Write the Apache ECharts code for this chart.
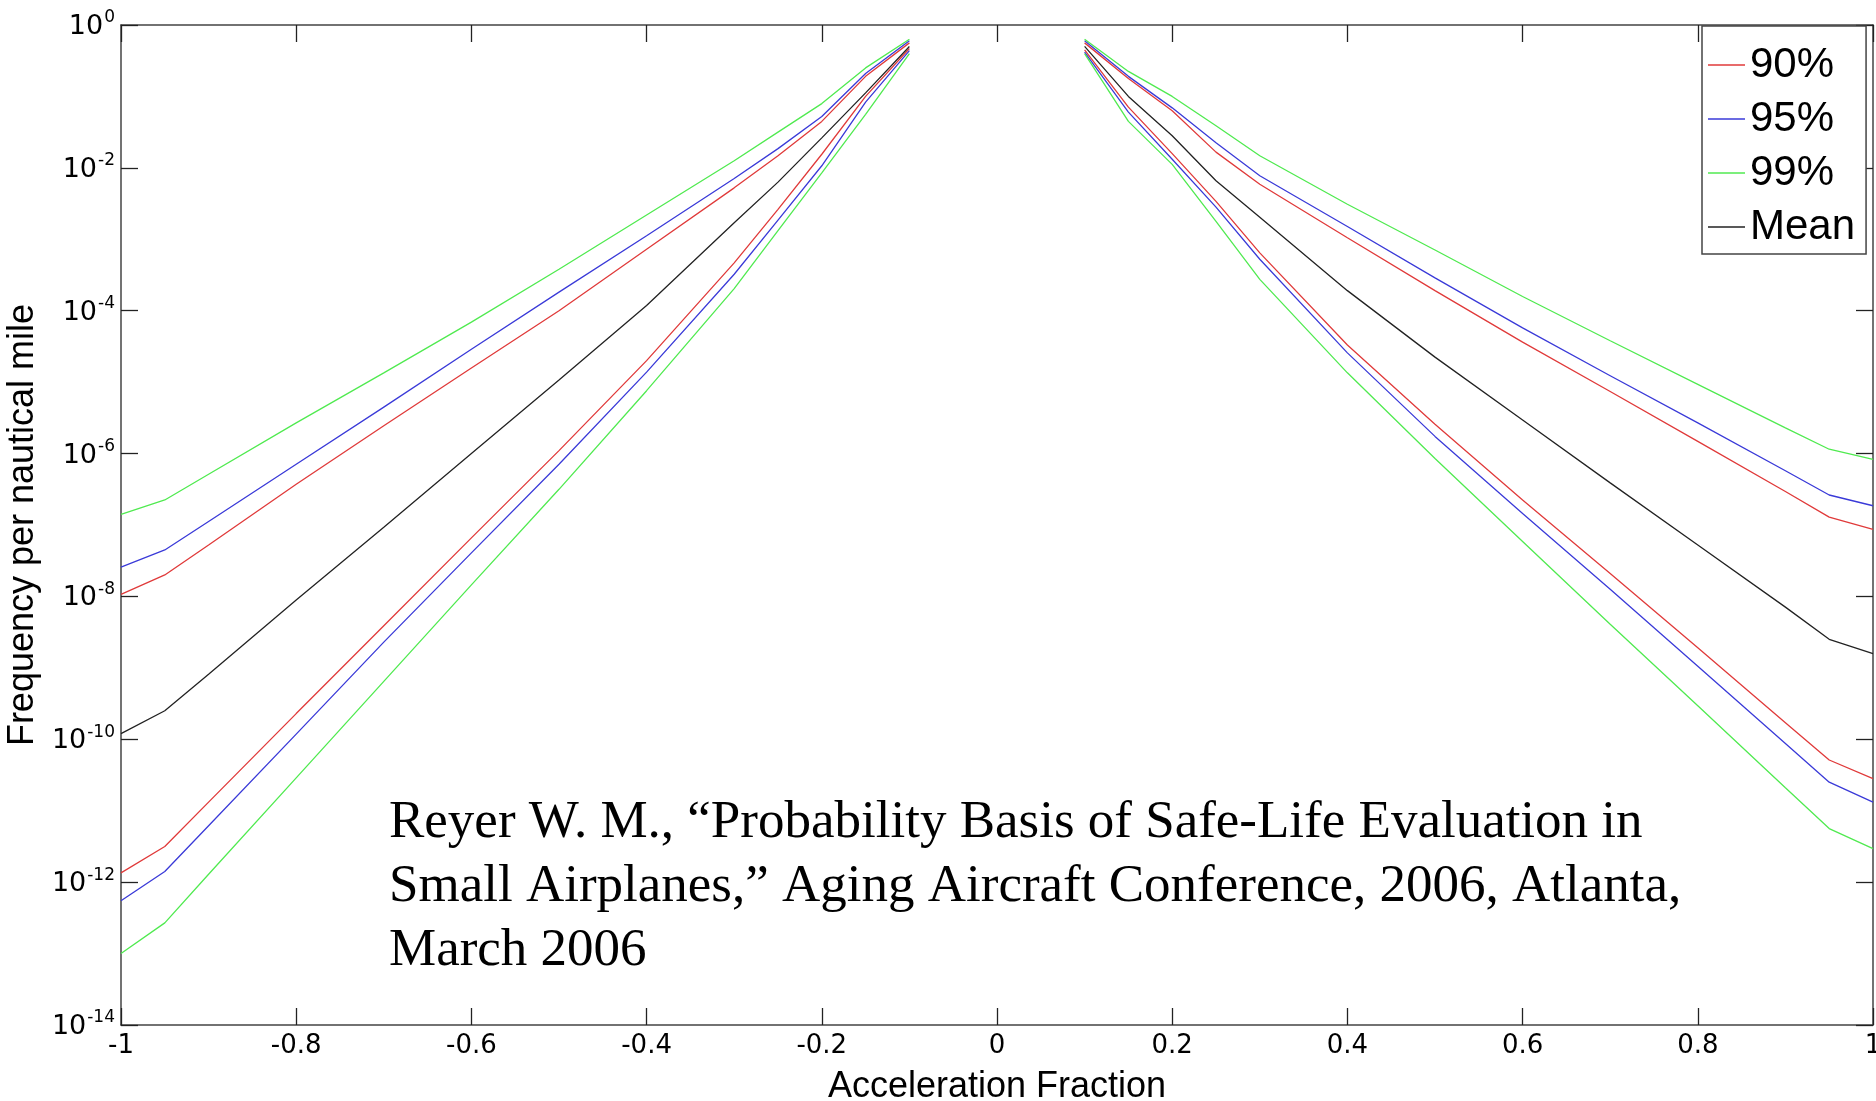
<!DOCTYPE html>
<html>
<head>
<meta charset="utf-8">
<script src="https://cdn.jsdelivr.net/npm/echarts@6/dist/echarts.min.js"></script>
<style>
html,body{margin:0;padding:0;background:#fff;}
#chart{width:1876px;height:1101px;}
</style>
</head>
<body>
<div id="chart"></div>
<script>
// x positions (acceleration fraction)
const leftX = [-1, -0.95, -0.9, -0.8, -0.7, -0.6, -0.5, -0.4, -0.3, -0.25, -0.2, -0.15, -0.1];
const rightX = [0.1, 0.15, 0.2, 0.25, 0.3, 0.4, 0.5, 0.6, 0.7, 0.8, 0.9, 0.95, 1];

// frequency per nautical mile, left (negative) branch
const green99UpperLeft = [1.41e-7, 2.24e-7, 5.13e-7, 2.69e-6, 1.35e-5, 6.92e-5, 3.80e-4, 2.19e-3, 1.26e-2, 3.16e-2, 7.94e-2, 0.251, 0.631];
const blue95UpperLeft  = [2.57e-8, 4.47e-8, 1.12e-7, 7.08e-7, 4.47e-6, 2.88e-5, 1.82e-4, 1.12e-3, 7.08e-3, 1.86e-2, 5.25e-2, 0.209, 0.603];
const red90UpperLeft   = [1.07e-8, 2.00e-8, 5.25e-8, 3.72e-7, 2.45e-6, 1.58e-5, 1.0e-4, 7.24e-4, 5.25e-3, 1.48e-2, 4.47e-2, 0.191, 0.562];
const meanLeft         = [1.20e-10, 2.51e-10, 8.13e-10, 8.91e-9, 9.33e-8, 1.0e-6, 1.07e-5, 1.18e-4, 1.70e-3, 6.31e-3, 2.63e-2, 0.112, 0.501];
const red90LowerLeft   = [1.35e-12, 3.16e-12, 1.32e-11, 2.29e-10, 3.89e-9, 6.61e-8, 1.10e-6, 2.00e-5, 4.68e-4, 2.63e-3, 1.55e-2, 0.1, 0.468];
const blue95LowerLeft  = [5.50e-13, 1.41e-12, 6.17e-12, 1.18e-10, 2.29e-9, 4.07e-8, 7.08e-7, 1.38e-5, 3.24e-4, 1.86e-3, 1.07e-2, 8.32e-2, 0.437];
const green99LowerLeft = [1.0e-13, 2.69e-13, 1.29e-12, 2.88e-11, 6.46e-10, 1.45e-8, 3.16e-7, 7.59e-6, 2.04e-4, 1.32e-3, 8.51e-3, 5.62e-2, 0.398];

// right (positive) branch
const green99UpperRight = [0.631, 0.224, 0.1, 3.89e-2, 1.48e-2, 3.09e-3, 7.08e-4, 1.58e-4, 3.80e-5, 9.33e-6, 2.29e-6, 1.15e-6, 8.32e-7];
const blue95UpperRight  = [0.603, 0.191, 6.92e-2, 2.24e-2, 7.76e-3, 1.51e-3, 2.88e-4, 5.75e-5, 1.23e-5, 2.69e-6, 5.75e-7, 2.63e-7, 1.86e-7];
const red90UpperRight   = [0.562, 0.178, 6.31e-2, 1.66e-2, 5.89e-3, 1.05e-3, 1.91e-4, 3.63e-5, 7.41e-6, 1.48e-6, 2.95e-7, 1.29e-7, 8.71e-8];
const meanRight         = [0.501, 0.1, 2.82e-2, 6.61e-3, 2.04e-3, 1.91e-4, 2.24e-5, 2.95e-6, 3.89e-7, 5.25e-8, 7.08e-9, 2.51e-9, 1.58e-9];
const red90LowerRight   = [0.447, 7.08e-2, 1.58e-2, 3.39e-3, 6.46e-4, 3.31e-5, 2.57e-6, 2.24e-7, 2.09e-8, 1.91e-9, 1.70e-10, 5.13e-11, 2.82e-11];
const blue95LowerRight  = [0.417, 6.03e-2, 1.32e-2, 2.82e-3, 5.25e-4, 2.57e-5, 1.74e-6, 1.45e-7, 1.26e-8, 1.05e-9, 8.71e-11, 2.51e-11, 1.32e-11];
const green99LowerRight = [0.398, 4.47e-2, 1.12e-2, 1.78e-3, 2.75e-4, 1.35e-5, 8.51e-7, 5.89e-8, 4.07e-9, 2.95e-10, 2.09e-11, 5.62e-12, 2.95e-12];

const legendNames = ['90%', '95%', '99%', 'Mean'];
const xAxisTitle = 'Acceleration Fraction';
const yAxisTitle = 'Frequency per nautical mile';
const noteText = 'Reyer W. M., \u201CProbability Basis of Safe-Life Evaluation in\nSmall Airplanes,\u201D Aging Aircraft Conference, 2006, Atlanta,\nMarch 2006';

const colors = { '90%': '#e03a3a', '95%': '#3a3ad8', '99%': '#50ea50', 'Mean': '#222222' };

function mk(name, xs, ys) {
  return {
    name: name, type: 'line', symbol: 'none', showSymbol: false,
    animation: false, silent: true,
    lineStyle: { width: 1.3, color: colors[name] },
    itemStyle: { color: colors[name] },
    data: xs.map((x, i) => [x, ys[i]])
  };
}

const series = [
  mk('90%', leftX, red90UpperLeft), mk('90%', leftX, red90LowerLeft),
  mk('90%', rightX, red90UpperRight), mk('90%', rightX, red90LowerRight),
  mk('95%', leftX, blue95UpperLeft), mk('95%', leftX, blue95LowerLeft),
  mk('95%', rightX, blue95UpperRight), mk('95%', rightX, blue95LowerRight),
  mk('99%', leftX, green99UpperLeft), mk('99%', leftX, green99LowerLeft),
  mk('99%', rightX, green99UpperRight), mk('99%', rightX, green99LowerRight),
  mk('Mean', leftX, meanLeft), mk('Mean', rightX, meanRight)
];

const FONT = '"Liberation Sans", Arial, Helvetica, sans-serif';
const TICKFONT = '"DejaVu Sans", "Liberation Sans", Arial, sans-serif';
const axisLineStyle = { color: '#444', width: 1.5 };
const tickStyle = { color: '#222', width: 1.3 };

const chart = echarts.init(document.getElementById('chart'), null, { renderer: 'canvas' });
chart.setOption({
  backgroundColor: '#fff',
  animation: false,
  grid: { left: 121, top: 25, width: 1752, height: 1000, containLabel: false, outerBoundsMode: 'none' },
  legend: {
    data: legendNames, orient: 'vertical', left: 1702, top: 26,
    icon: 'rect', itemWidth: 37, itemHeight: 1.5, itemGap: 12,
    backgroundColor: '#fff', borderColor: '#444', borderWidth: 1.5, borderRadius: 0,
    padding: [18, 11, 6, 6],
    textStyle: { fontSize: 42, fontFamily: FONT, color: '#000', lineHeight: 42 },
    selectedMode: false
  },
  xAxis: [{
    type: 'value', min: -1, max: 1, interval: 0.2, position: 'bottom',
    name: xAxisTitle, nameLocation: 'middle', nameGap: 44,
    nameTextStyle: { fontSize: 36, fontFamily: FONT, color: '#000' },
    axisLine: { show: true, onZero: false, lineStyle: axisLineStyle },
    axisTick: { show: true, inside: true, length: 17, lineStyle: tickStyle },
    axisLabel: { fontSize: 26, fontFamily: TICKFONT, color: '#000', margin: 8 },
    splitLine: { show: false }
  }, {
    type: 'value', min: -1, max: 1, interval: 0.2, position: 'top',
    axisLine: { show: true, onZero: false, lineStyle: axisLineStyle },
    axisTick: { show: true, inside: true, length: 17, lineStyle: tickStyle },
    axisLabel: { show: false }, splitLine: { show: false }
  }],
  yAxis: [{
    type: 'log', logBase: 10, min: 1e-14, max: 1, interval: 2, position: 'left',
    name: yAxisTitle, nameLocation: 'middle', nameGap: 80,
    nameTextStyle: { fontSize: 36, fontFamily: FONT, color: '#000' },
    axisLine: { show: true, onZero: false, lineStyle: axisLineStyle },
    axisTick: { show: true, inside: true, length: 17, lineStyle: tickStyle },
    minorTick: { show: false },
    axisLabel: {
      margin: 6, color: '#000',
      formatter: function (v) {
        const e = Math.round(Math.log10(v));
        return '{b|10}{s|' + e + '}';
      },
      rich: {
        b: { fontSize: 27, fontFamily: TICKFONT, color: '#000', verticalAlign: 'bottom' },
        s: { fontSize: 17, fontFamily: TICKFONT, color: '#000', verticalAlign: 'bottom', padding: [0, 0, 14, 1] }
      }
    },
    splitLine: { show: false }
  }, {
    type: 'log', logBase: 10, min: 1e-14, max: 1, interval: 2, position: 'right',
    axisLine: { show: true, onZero: false, lineStyle: axisLineStyle },
    axisTick: { show: true, inside: true, length: 17, lineStyle: tickStyle },
    minorTick: { show: false },
    axisLabel: { show: false }, splitLine: { show: false }
  }],
  graphic: [{
    type: 'text', left: 389, top: 791, silent: true,
    style: {
      text: noteText, font: '53px "Liberation Serif", "Times New Roman", serif',
      fill: '#000', lineHeight: 64
    }
  }],
  series: series
});
</script>
</body>
</html>
